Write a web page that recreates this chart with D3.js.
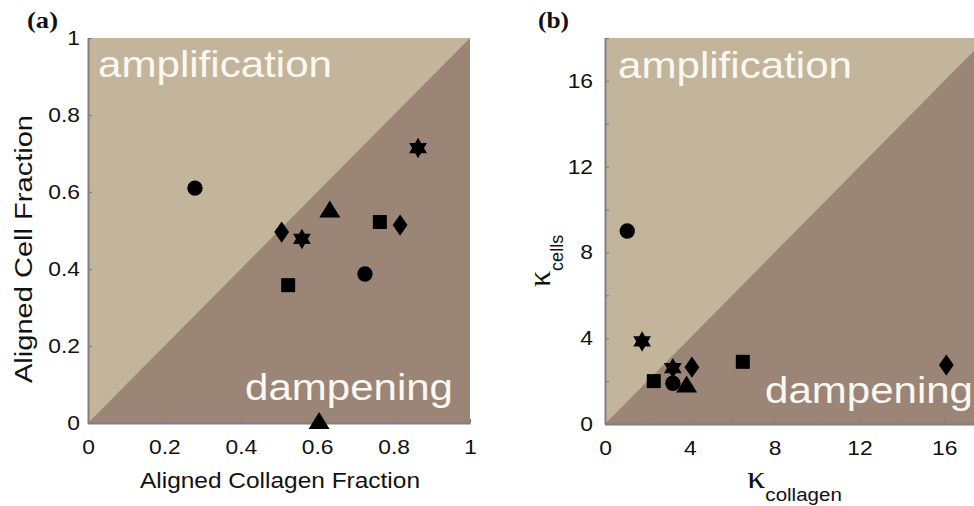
<!DOCTYPE html>
<html lang="en">
<head>
    <meta charset="UTF-8">
    <title>Alignment amplification vs dampening</title>
    <script src="https://d3js.org/d3.v7.min.js"></script>
    <style>
        body { margin: 0; background: #fff; overflow: hidden; }
        svg { display: block; }
    </style>
</head>
<body>
    <script>
        // marker shape for each sample (same order in both panels)
        const markersA = ["circle", "star", "triangle", "square", "diamond", "diamond", "star", "square", "circle", "triangle"];
        const collagenFraction = [0.28, 0.864, 0.633, 0.764, 0.817, 0.507, 0.56, 0.524, 0.725, 0.605];
        const cellFraction = [0.61, 0.714, 0.549, 0.522, 0.514, 0.496, 0.478, 0.358, 0.387, 0.0];

        const markersB = ["circle", "star", "square", "star", "circle", "triangle", "diamond", "square", "diamond"];
        const kappaCollagen = [1.05, 1.75, 2.3, 3.2, 3.2, 3.85, 4.1, 6.5, 16.1];
        const kappaCells = [9.0, 3.85, 2.0, 2.6, 1.9, 1.75, 2.65, 2.9, 2.75];

        const fracTicks = [0, 0.2, 0.4, 0.6, 0.8, 1];
        const fracLabels = ["0", "0.2", "0.4", "0.6", "0.8", "1"];
        const kTicks = [0, 2, 4, 6, 8, 10, 12, 14, 16, 18];
        const kLabels = ["0", "", "4", "", "8", "", "12", "", "16", ""];

        const light = "#c3b59b", dark = "#9b8577", axisGrey = "#808080";
        const sans = "Arial, 'Liberation Sans', sans-serif";
        const serif = "'Times New Roman', 'Liberation Serif', serif";
        const stretchX = 1.14; // the figure is a bit wider than its fonts

        const svg = d3.select("body").append("svg")
            .attr("width", 974)
            .attr("height", 506)
            .attr("font-family", sans);

        // Custom marker shapes
        const hexagram = {
            draw(ctx, size) {
                const r = Math.sqrt(size) / 2;
                [-90, 90].forEach(a0 => {
                    for (let k = 0; k < 3; k++) {
                        const a = (a0 + k * 120) * Math.PI / 180;
                        if (k === 0) ctx.moveTo(r * Math.cos(a), r * Math.sin(a));
                        else ctx.lineTo(r * Math.cos(a), r * Math.sin(a));
                    }
                    ctx.closePath();
                });
            }
        };
        const diamond = {
            draw(ctx, size) {
                const h = Math.sqrt(size) / 2, w = h * 0.7;
                ctx.moveTo(0, -h); ctx.lineTo(w, 0); ctx.lineTo(0, h); ctx.lineTo(-w, 0); ctx.closePath();
            }
        };
        const triangle = {
            draw(ctx, size) {
                const w = Math.sqrt(size) / 2;
                ctx.moveTo(0, -w * 1.05); ctx.lineTo(w, w * 0.57); ctx.lineTo(-w, w * 0.57); ctx.closePath();
            }
        };
        const symbols = {
            circle: d3.symbol().type(d3.symbolCircle).size(185),
            square: d3.symbol().type(d3.symbolSquare).size(196),
            star: d3.symbol().type(hexagram).size(420),
            diamond: d3.symbol().type(diamond).size(450),
            triangle: d3.symbol().type(triangle).size(441)
        };

        function widen(sel, k) {
            sel.each(function() {
                const len = this.getComputedTextLength();
                if (len > 0) d3.select(this).attr("textLength", len * k).attr("lengthAdjust", "spacingAndGlyphs");
            });
        }

        function panel(cfg) {
            const g = svg.append("g");
            const x = cfg.x, y = cfg.y;
            const [x0, x1] = x.domain(), [y0, y1] = y.domain();

            g.append("rect")
                .attr("x", x(x0)).attr("y", y(y1))
                .attr("width", x(x1) - x(x0)).attr("height", y(y0) - y(y1))
                .attr("fill", light);
            g.append("path")
                .attr("d", d3.line()([[x(x0), y(y0)], [x(x1), y(y0)], [x(x1), y(y1)]]) + "Z")
                .attr("fill", dark);

            // region labels
            g.append("text")
                .attr("x", cfg.ampPos[0]).attr("y", cfg.ampPos[1])
                .attr("fill", "#fbf8f2").attr("font-size", 37)
                .attr("textLength", 234).attr("lengthAdjust", "spacingAndGlyphs")
                .text("amplification");
            g.append("text")
                .attr("x", cfg.dampPos[0]).attr("y", cfg.dampPos[1])
                .attr("fill", "#fbf8f2").attr("font-size", 37)
                .attr("textLength", 208).attr("lengthAdjust", "spacingAndGlyphs")
                .text("dampening");

            // axes, ticks pointing inward
            const xAxis = g.append("g")
                .attr("transform", `translate(0,${y(y0)})`)
                .call(d3.axisBottom(x).tickValues(cfg.ticks).tickFormat((d, i) => cfg.labels[i])
                    .tickSizeInner(-4).tickSizeOuter(0).tickPadding(cfg.xPad));
            const yAxis = g.append("g")
                .attr("transform", `translate(${x(x0)},0)`)
                .call(d3.axisLeft(y).tickValues(cfg.ticks).tickFormat((d, i) => cfg.labels[i])
                    .tickSizeInner(-4).tickSizeOuter(0).tickPadding(cfg.yPad));
            [xAxis, yAxis].forEach(a => {
                a.attr("font-family", sans).attr("font-size", 20);
                a.select(".domain").attr("stroke", axisGrey).attr("stroke-width", 2);
                a.selectAll(".tick line").attr("stroke", axisGrey).attr("stroke-width", 1.2);
                a.selectAll(".tick text").attr("fill", "#111");
            });
            widen(xAxis.selectAll(".tick text"), stretchX);
            widen(yAxis.selectAll(".tick text"), stretchX);

            // markers
            g.selectAll("path.mark")
                .data(cfg.xs.map((v, i) => ({ x: v, y: cfg.ys[i], m: cfg.markers[i] })))
                .join("path")
                .attr("class", "mark")
                .attr("transform", d => `translate(${x(d.x)},${y(d.y)})`)
                .attr("d", d => symbols[d.m]())
                .attr("fill", "#000");

            return g;
        }

        // ---- panel (a)
        panel({
            x: d3.scaleLinear().domain([0, 1]).range([88, 470]),
            y: d3.scaleLinear().domain([0, 1]).range([423, 38]),
            ticks: fracTicks, labels: fracLabels,
            xPad: 17, yPad: 8,
            ampPos: [98, 77], dampPos: [245, 400],
            xs: collagenFraction, ys: cellFraction, markers: markersA
        });

        svg.append("text")
            .attr("x", 280).attr("y", 488)
            .attr("text-anchor", "middle").attr("font-size", 22).attr("fill", "#111")
            .attr("textLength", 280).attr("lengthAdjust", "spacingAndGlyphs")
            .text("Aligned Collagen Fraction");
        svg.append("text")
            .attr("transform", "translate(32,249) rotate(-90)")
            .attr("text-anchor", "middle").attr("font-size", 23).attr("fill", "#111")
            .attr("textLength", 268).attr("lengthAdjust", "spacingAndGlyphs")
            .text("Aligned Cell Fraction");

        // ---- panel (b)
        panel({
            x: d3.scaleLinear().domain([0, 18]).range([605, 986.6]),
            y: d3.scaleLinear().domain([0, 18]).range([424, 38]),
            ticks: kTicks, labels: kLabels,
            xPad: 17, yPad: 12,
            ampPos: [618, 78], dampPos: [765, 403],
            xs: kappaCollagen, ys: kappaCells, markers: markersB
        });

        const kx = svg.append("text").attr("x", 747).attr("y", 488).attr("fill", "#111");
        kx.append("tspan").attr("font-family", serif).attr("font-size", 32).text("κ");
        kx.append("tspan").attr("font-size", 18).attr("dy", 13).text("collagen");
        widen(kx.selectAll("tspan"), stretchX);

        const ky = svg.append("text").attr("transform", "translate(550,287) rotate(-90)").attr("fill", "#111");
        ky.append("tspan").attr("font-family", serif).attr("font-size", 32).text("κ");
        ky.append("tspan").attr("font-size", 18).attr("dy", 13).text("cells");

        // panel letters
        [["(a)", 27], ["(b)", 538]].forEach(([t, px]) => {
            svg.append("text")
                .attr("x", px).attr("y", 28)
                .attr("font-family", serif)
                .attr("font-weight", "bold").attr("font-size", 23).attr("fill", "#111")
                .attr("textLength", 31).attr("lengthAdjust", "spacingAndGlyphs")
                .text(t);
        });
    </script>
</body>
</html>
